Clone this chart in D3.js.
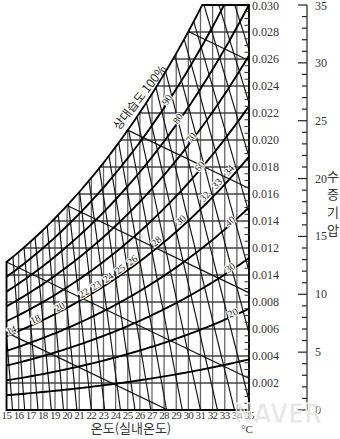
<!DOCTYPE html>
<html><head><meta charset="utf-8">
<script src="https://cdn.jsdelivr.net/npm/d3@7"></script>
<style>body{margin:0;background:#fff}svg{display:block}</style>
</head><body><svg id="c" width="340" height="439"></svg>
<script>
// ---- data ----
const temps = d3.range(15, 36);                       // dry-bulb grid (°C)
const satTemps = d3.range(10, 39);                    // saturation table temps
const satP = [9.21,9.84,10.52,11.23,11.99,12.79,13.65,14.57,15.54,16.58,17.68,18.84,20.07,21.36,22.74,24.19,25.71,27.33,29.03,30.82,32.71,34.71,36.80,39.01,41.34,43.78,46.3,49.0,51.9]; // mmHg
const rhLevels = [10,20,30,40,50,60,70,80,90];
const wetBulbT = [10,15,20,25,30];
const etValues = [15,16,17,18,19,20,21,22,23,24,25,26,27,28,29,30,31,32,33,34,35,36,37,38];
const etBaseT = [15.5,16.5,17.6,18.7,19.7,20.8,22.0,23.1,24.4,25.6,26.9,28.2,29.5,31.0,32.4,33.8,35.2,36.7,38.2,39.7,41.2,42.8,44.4,46.0];
const etLabelValues = [16,18,20,22,23,24,25,26,28,30,32,33,34];
const etLabelTexts = ["14","18","20","22","23","24","25","26","28","30","32","33","34"];
const rhLabelValues = [90,80,70,60,40,30,20];
const wTicks = [0.002,0.004,0.006,0.008,0.010,0.012,0.014,0.016,0.018,0.020,0.022,0.024,0.026,0.028,0.030];
const wTickLabels = ["0.002","0.004","0.006","0.008","0.014","0.012","0.014","0.016","0.018","0.020","0.022","0.024","0.026","0.028","0.030"];
const pTicks = d3.range(0, 36);
const pTickLabels = [0,5,10,15,20,25,30,35];

// ---- scales ----
const x = d3.scaleLinear().domain([15,35]).range([6.5,249]);
const yP = d3.scaleLinear().domain([0,35]).range([410,5]);
const yW = d3.scaleLinear().domain([0,0.030]).range([410,5]);

function psAt(T){
  let i = Math.floor(T - satTemps[0]);
  i = Math.max(0, Math.min(satTemps.length-2, i));
  const t = T - satTemps[i];
  return Math.exp(Math.log(satP[i])*(1-t) + Math.log(satP[i+1])*t);
}
function tAtP(p){ let lo=10, hi=38; for(let k=0;k<60;k++){const m=(lo+hi)/2; if(psAt(m)<p) lo=m; else hi=m;} return (lo+hi)/2; }
const tTop = tAtP(35);

const svg = d3.select("#c");
const line = d3.line().x(d=>x(d[0])).y(d=>yP(d[1]));
const satPts = d3.range(15, tTop, 0.2).map(T=>[T, psAt(T)]).concat([[tTop,35]]);

svg.append("defs").append("clipPath").attr("id","clip")
  .append("path").attr("d", line(satPts.concat([[35,35],[35,0],[15,0]])) + "Z");

const g = svg.append("g").attr("clip-path","url(#clip)");

// vertical dry-bulb lines
g.selectAll("line.v").data(temps).join("line")
  .attr("x1", d=>x(d)).attr("x2", d=>x(d)).attr("y1", yP(0)).attr("y2", yP(35))
  .attr("stroke","#666").attr("stroke-width",1.3);

// horizontal humidity lines
g.selectAll("line.h").data(wTicks).join("line")
  .attr("x1", x(15)).attr("x2", x(35)).attr("y1", d=>yW(d)).attr("y2", d=>yW(d))
  .attr("stroke","#444").attr("stroke-width",1.6);

// effective temperature lines
etValues.forEach((et,i)=>{
  const T0 = etBaseT[i], p50 = 0.5*psAt(et);
  const pEnd = 50;
  g.append("path").attr("d", line([[T0,0],[T0+(et-T0)*pEnd/p50, pEnd]]))
    .attr("fill","none").attr("stroke","#111").attr("stroke-width",1.15);
});

// wet-bulb lines
wetBulbT.forEach(tw=>{
  const ps = psAt(tw);
  g.append("path").attr("d", line([[tw, ps],[tw + ps/0.503, 0]]))
    .attr("fill","none").attr("stroke","#111").attr("stroke-width",1.2);
});

// relative humidity curves
rhLevels.forEach(rh=>{
  const pts = d3.range(15, 35.001, 0.25).map(T=>[T, rh/100*psAt(T)]);
  g.append("path").attr("d", line(pts))
    .attr("fill","none").attr("stroke","#000").attr("stroke-width",1.9);
});

// frame + saturation curve
svg.append("path").attr("d", line(satPts.concat([[35,35],[35,0],[15,0]])) + "Z")
  .attr("fill","none").attr("stroke","#000").attr("stroke-width",1.8).attr("stroke-linejoin","miter");

// ET labels on 50% RH curve
const lab = svg.append("g").attr("font-family","Liberation Serif").attr("font-size",10).attr("fill","#222")
  .attr("stroke","#fff").attr("stroke-width",2.2).attr("paint-order","stroke");
function tangentAngle(rh, T){
  const a=[x(T-0.5), yP(rh/100*psAt(T-0.5))], b=[x(T+0.5), yP(rh/100*psAt(T+0.5))];
  return Math.atan2(b[1]-a[1], b[0]-a[0])*180/Math.PI;
}
etLabelValues.forEach((et,i)=>{
  const px = x(et)-7, py = yP(0.5*psAt(et));
  lab.append("text").attr("text-anchor","middle").attr("dominant-baseline","middle")
    .attr("transform",`translate(${px},${py}) rotate(${tangentAngle(50, et)})`).text(etLabelTexts[i]);
});
// RH labels
const rhLabelT = {90:28.3,80:29.2,70:30.3,60:31.0,40:33.5,30:33.5,20:33.7};
rhLabelValues.forEach(rh=>{
  const T = rhLabelT[rh];
  const px = x(T), py = yP(rh/100*psAt(T)) - 2;
  lab.append("text").attr("text-anchor","middle").attr("dominant-baseline","middle")
    .attr("transform",`translate(${px},${py}) rotate(${tangentAngle(rh, T)})`).text(rh);
});

// 상대습도 100% label
svg.append("text").attr("font-family","Noto Sans CJK KR").attr("font-size",12).attr("fill","#222")
  .attr("text-anchor","middle")
  .attr("transform","translate(143,100) rotate(-52)").text("상대습도 100%");

// W axis minor ticks & labels
const minorW = d3.range(1,60).filter(k=>k%4!==0).map(k=>k*0.0005);
svg.selectAll("line.mw").data(minorW).join("line")
  .attr("x1", x(35)-4.5).attr("x2", x(35)).attr("y1", d=>yW(d)).attr("y2", d=>yW(d))
  .attr("stroke","#333").attr("stroke-width",1);
svg.append("g").attr("font-family","Liberation Serif").attr("font-size",12).attr("fill","#333")
  .selectAll("text").data(wTicks).join("text")
  .attr("x", x(35)+3).attr("y", d=>Math.max(yW(d)+4, 10)).text((d,i)=>wTickLabels[i]);

// vapour pressure axis
const ax = 307;
svg.append("line").attr("x1",ax).attr("x2",ax).attr("y1",yP(0)).attr("y2",yP(35)).attr("stroke","#222").attr("stroke-width",1.2);
svg.selectAll("line.pt").data(pTicks).join("line")
  .attr("x1", d=> d%5===0 ? ax-9 : ax-5).attr("x2", ax)
  .attr("y1", d=>yP(d)).attr("y2", d=>yP(d)).attr("stroke","#222").attr("stroke-width",1.2);
svg.append("g").attr("font-family","Liberation Serif").attr("font-size",12).attr("fill","#333")
  .selectAll("text").data(pTickLabels).join("text")
  .attr("x", ax+8).attr("y", d=>Math.max(yP(d)+4, 10)).text(d=>d);
const vtitle = ["수","증","기","압"];
svg.append("g").attr("font-family","Noto Sans CJK KR").attr("font-size",13).attr("fill","#333")
  .selectAll("text").data(vtitle).join("text")
  .attr("x",333).attr("y",(d,i)=>181+i*18).attr("text-anchor","middle").text(d=>d);

// bottom temperature labels
svg.append("g").attr("font-family","Liberation Serif").attr("font-size",11).attr("fill","#333")
  .attr("letter-spacing","-0.6")
  .selectAll("text").data(temps).join("text")
  .attr("x", d=>x(d)).attr("y", 419).attr("text-anchor","middle").text(d=>d);
svg.append("text").attr("x",131).attr("y",433).attr("text-anchor","middle")
  .attr("font-family","Noto Sans CJK KR").attr("font-size",13).attr("fill","#333").text("온도(실내온도)");
svg.append("text").attr("x",247).attr("y",433).attr("text-anchor","middle")
  .attr("font-family","Liberation Serif").attr("font-size",11).attr("fill","#333").text("°C");

// watermark
svg.append("text").attr("x",234).attr("y",423).attr("textLength",88).attr("lengthAdjust","spacingAndGlyphs")
  .attr("font-family","DejaVu Sans").attr("font-weight","bold").attr("font-size",26)
  .attr("fill","#d0d0d0").attr("fill-opacity",0.5).attr("stroke","#fff").attr("stroke-width",1).text("NAVER");
</script></body></html>
